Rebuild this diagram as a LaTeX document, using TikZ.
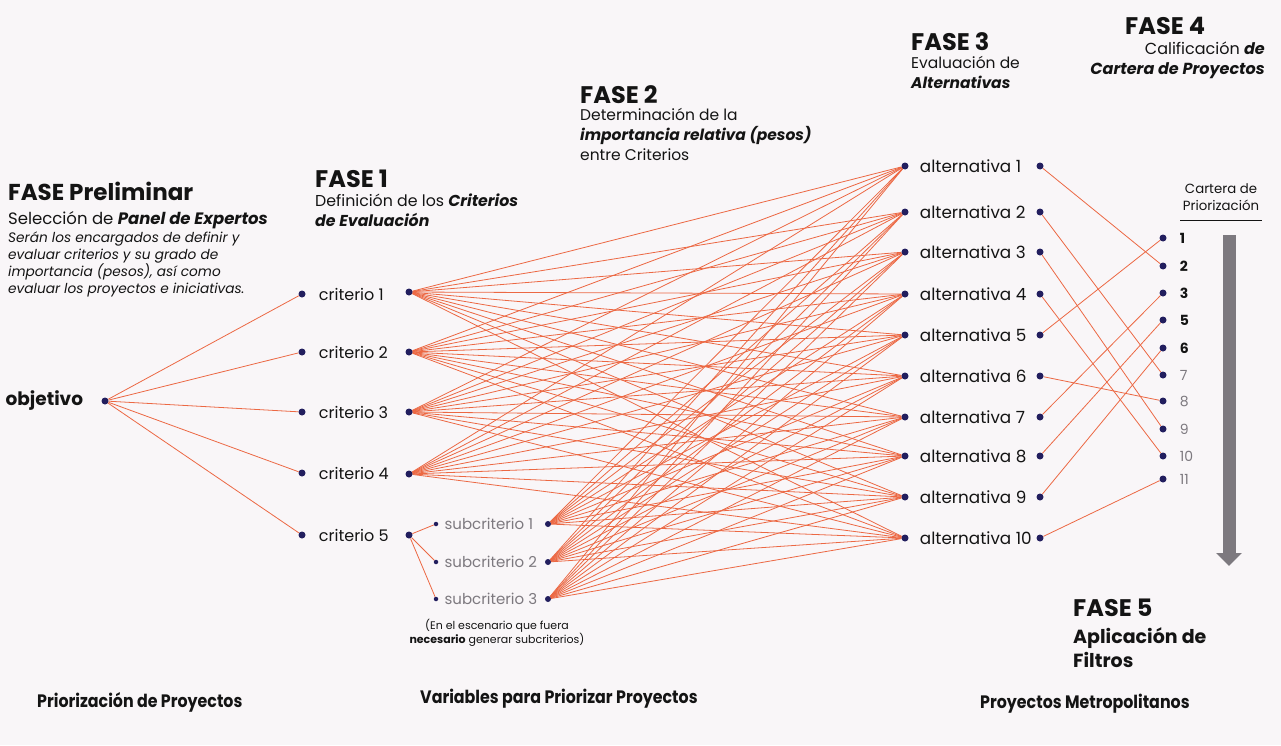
\documentclass[tikz,border=0pt]{standalone}
\usepackage{fontspec}
\setmainfont{Poppins}
\newfontfamily\condensada[FakeStretch=0.88]{Poppins}
\usetikzlibrary{positioning, arrows.meta}

\definecolor{fondo}{HTML}{F9F6F8}
\definecolor{linea}{HTML}{EC6843}
\definecolor{punto}{HTML}{221E5E}
\definecolor{gris}{HTML}{7D797F}
\definecolor{tinta}{HTML}{141414}

\pgfdeclarelayer{capafondo}
\pgfdeclarelayer{capalineas}
\pgfsetlayers{capafondo,capalineas,main}

\tikzset{
    punto/.style={circle, fill=punto, inner sep=0pt, minimum size=7pt},
    puntito/.style={circle, fill=punto, inner sep=0pt, minimum size=4.5pt},
    rayo/.style={draw=linea, line width=0.8pt},
    etiq/.style={inner sep=0pt, text=tinta, font=\fontsize{16}{18}\selectfont},
    fase/.style={inner sep=0pt, text=tinta, font=\bfseries\fontsize{24}{28}\selectfont},
    texto/.style={inner sep=0pt, text=tinta, align=left, font=\fontsize{15.5}{20}\selectfont},
    pie/.style={inner sep=0pt, text=tinta, font=\condensada\bfseries\fontsize{18}{20}\selectfont}
}

\begin{document}
\begin{tikzpicture}[x=1pt, y=-1pt]
    \begin{pgfonlayer}{capafondo}
        \fill[fondo] (0,0) rectangle (1281,745);
    \end{pgfonlayer}
    \useasboundingbox (0,0) rectangle (1281,745);

    % objetivo y criterios
    \node[punto] (obj) at (105,401) {};
    \node[etiq, font=\bfseries\fontsize{18.5}{20}\selectfont, left=18pt of obj] {objetivo};

    \node[punto] (c1a) at (302,294) {};
    \node[punto] (c2a) at (302,352) {};
    \node[punto] (c3a) at (302,412) {};
    \node[punto] (c4a) at (302,473) {};
    \node[punto] (c5a) at (302,535) {};
    \node[etiq, right=13pt of c1a] {criterio 1};
    \node[etiq, right=13pt of c2a] {criterio 2};
    \node[etiq, right=13pt of c3a] {criterio 3};
    \node[etiq, right=13pt of c4a] {criterio 4};
    \node[etiq, right=13pt of c5a] {criterio 5};
    \node[punto] (c1b) at (409,292) {};
    \node[punto] (c2b) at (409,352) {};
    \node[punto] (c3b) at (409,412) {};
    \node[punto] (c4b) at (409,474) {};
    \node[punto] (c5b) at (409,535) {};

    % subcriterios
    \node[puntito] (s1a) at (436,524) {};
    \node[puntito] (s2a) at (436,562) {};
    \node[puntito] (s3a) at (436,599) {};
    \node[etiq, text=gris, font=\fontsize{15}{18}\selectfont, right=6pt of s1a] {subcriterio 1};
    \node[etiq, text=gris, font=\fontsize{15}{18}\selectfont, right=6pt of s2a] {subcriterio 2};
    \node[etiq, text=gris, font=\fontsize{15}{18}\selectfont, right=6pt of s3a] {subcriterio 3};
    \node[punto, minimum size=6pt] (s1b) at (548,524) {};
    \node[punto, minimum size=6pt] (s2b) at (548,562) {};
    \node[punto, minimum size=6pt] (s3b) at (548,599) {};
    \node[inner sep=0pt, text=tinta, align=center, font=\fontsize{11}{12.5}\selectfont] (nota) at (497,633)
        {(En el escenario que fuera\\\textbf{necesario} generar subcriterios)};

    % alternativas
    \foreach \n/\y in {1/166,2/212,3/252,4/294,5/335,6/376,7/417,8/456,9/497,10/538}{
        \node[punto] (al\n) at (905,\y) {};
        \node[punto] (ar\n) at (1040,\y) {};
        \node[etiq, font=\fontsize{16.8}{18}\selectfont, right=11pt of al\n] {alternativa \n};
    }

    % cartera de priorizacion
    \foreach \n/\y/\c/\f in {1/238/tinta/\bfseries, 2/266/tinta/\bfseries, 3/293/tinta/\bfseries,
        5/320/tinta/\bfseries, 6/348/tinta/\bfseries, 7/375/gris/, 8/401/gris/, 9/429/gris/,
        10/456/gris/, 11/479/gris/}{
        \node[punto] (p\n) at (1163,\y) {};
        \node[etiq, text=\c, font=\f\fontsize{14}{16}\selectfont, right=13pt of p\n] {\n};
    }
    \node[inner sep=0pt, text=tinta, align=center, font=\fontsize{13.3}{17}\selectfont] (cartera) at (1221,197)
        {Cartera de\\Priorización};
    \draw[tinta, line width=0.8pt] (1180,220) -- (1262,220);
    \coordinate (flechaIni) at (1229,235);
    \coordinate (flechaFin) at (1229,566);
    \draw[gris, line width=13pt, -{Triangle[width=25pt, length=13pt]}] (flechaIni) -- (flechaFin);

    % conexiones
    \begin{pgfonlayer}{capalineas}
        \foreach \c in {c1a,c2a,c3a,c4a,c5a}
            \draw[rayo] (obj) -- (\c);
        \foreach \s in {s1a,s2a,s3a}
            \draw[rayo] (c5b) -- (\s);
        \foreach \o in {c1b,c2b,c3b,c4b,s1b,s2b,s3b}
            \foreach \d in {1,...,10}
                \draw[rayo] (\o) -- (al\d);
        \foreach \a/\p in {1/2,2/7,3/9,4/10,5/1,6/8,7/3,8/5,9/6,10/11}
            \draw[rayo] (ar\a) -- (p\p);
    \end{pgfonlayer}

    % textos de las fases
    \node[fase, anchor=base west, font=\bfseries\fontsize{23}{28}\selectfont] (fprel) at (8,200) {FASE Preliminar};
    \node[texto, anchor=base west, font=\fontsize{16.5}{18}\selectfont] (fpsel) at (8,224)
        {Selección de \textbf{\itshape Panel de Expertos}};
    \node[texto, anchor=north west, font=\itshape\fontsize{13.7}{16.3}\selectfont] (fpnota) at (8,232)
        {Serán los encargados de definir y\\evaluar criterios y su grado de\\importancia (pesos), así como\\evaluar los proyectos e iniciativas.};

    \node[fase, anchor=base west] (f1) at (315,187) {FASE 1};
    \node[texto, anchor=north west, font=\fontsize{15.8}{20}\selectfont] (f1t) at (315,194)
        {Definición de los \textbf{\itshape Criterios}\\\textbf{\itshape de Evaluación}};

    \node[fase, anchor=base west] (f2) at (580,103) {FASE 2};
    \node[texto, anchor=north west] (f2t) at (580,108)
        {Determinación de la\\\textbf{\itshape importancia relativa (pesos)}\\entre Criterios};

    \node[fase, anchor=base west] (f3) at (911,50) {FASE 3};
    \node[texto, anchor=north west] (f3t) at (911,56)
        {Evaluación de\\\textbf{\itshape Alternativas}};

    \node[fase, anchor=base west] (f4) at (1125,34) {FASE 4};
    \node[texto, anchor=north east, align=right, font=\fontsize{16}{20}\selectfont] (f4t) at (1265,42)
        {Calificación \textbf{\itshape de}\\\textbf{\itshape Cartera de Proyectos}};

    \node[fase, anchor=base west] (f5) at (1073,616) {FASE 5};
    \node[texto, anchor=north west, font=\bfseries\fontsize{19}{24}\selectfont] (f5t) at (1073,627)
        {Aplicación de\\Filtros};

    % pies
    \node[pie, anchor=base west] (pie1) at (37,707) {Priorización de Proyectos};
    \node[pie, anchor=base west] (pie2) at (420,703) {Variables para Priorizar Proyectos};
    \node[pie, anchor=base west] (pie3) at (980,708) {Proyectos Metropolitanos};
\end{tikzpicture}
\end{document}
